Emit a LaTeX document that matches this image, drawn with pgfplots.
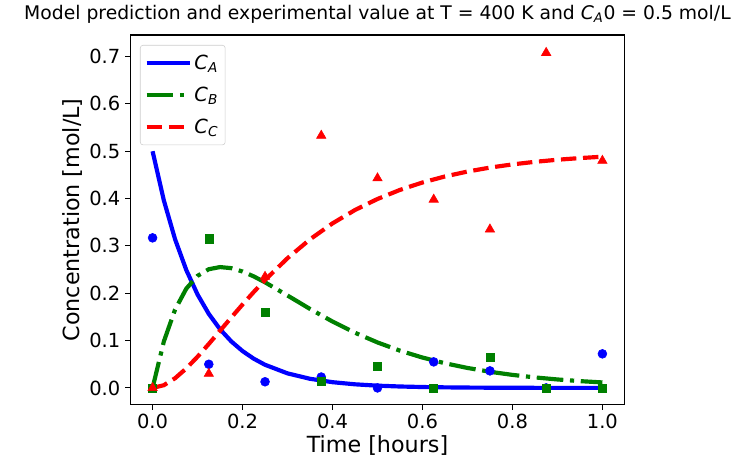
\documentclass[border=0pt]{standalone}
\usepackage{fontspec}
\setmainfont{DejaVu Sans}
\usepackage{pgfplots}
\pgfplotsset{compat=1.18}
\definecolor{mblue}{RGB}{0,0,255}
\definecolor{mgreen}{RGB}{0,128,0}
\definecolor{mred}{RGB}{255,0,0}
\begin{document}
\begin{tikzpicture}
\begin{axis}[
  scale only axis,
  width=356pt, height=266pt,
  xmin=-0.05, xmax=1.05, ymin=-0.0355, ymax=0.7455,
  xtick={0,0.2,0.4,0.6,0.8,1.0},
  ytick={0,0.1,0.2,0.3,0.4,0.5,0.6,0.7},
  /pgf/number format/assume math mode=true,
  /pgf/number format/.cd, fixed, fixed zerofill, precision=1, /pgfplots/.cd,
  tick label style={font=\fontsize{14pt}{16pt}\selectfont},
  tick align=outside, major tick length=3.5pt,
  every tick/.style={black, line width=0.8pt},
  axis line style={line width=0.8pt},
  xtick pos=bottom, ytick pos=left,
  title={Model prediction and experimental value at T = 400 K and \textit{C}\textsubscript{\textit{A}}0 = 0.5 mol/L},
  title style={font=\fontsize{13.5pt}{15pt}\selectfont, at={(0.5,1)}, anchor=south, yshift=0pt, inner sep=2pt},
  xlabel={Time [hours]},
  ylabel={Concentration [mol/L]},
  label style={font=\fontsize{16pt}{18pt}\selectfont},
  xlabel style={yshift=2pt},
  ylabel style={yshift=-2pt},
  legend style={at={(0.02,0.973)}, anchor=north west, draw=black!20, rounded corners=2pt,
    fill=white, fill opacity=0.8, text opacity=1, font=\fontsize{14pt}{16pt}\selectfont,
    inner sep=3pt, row sep=7pt, inner ysep=5pt},
  legend cell align=left,
  legend image code/.code={\draw[#1] (0pt,0pt) -- (31pt,0pt);},
]
\addplot[mblue, line width=3pt, no marks] coordinates {
(0,0.5) (0.025,0.39629) (0.05,0.31407) (0.075,0.24892) (0.1,0.19728) (0.125,0.15635)
(0.15,0.12392) (0.175,0.09821) (0.2,0.07784) (0.225,0.06169) (0.25,0.04889)
(0.3,0.03071) (0.35,0.01929) (0.4,0.01212) (0.45,0.00761) (0.5,0.00478)
(0.55,0.00300) (0.6,0.00189) (0.65,0.00119) (0.7,0.00074) (0.75,0.00047)
(0.8,0.0003) (0.85,0.00018) (0.9,0.00012) (0.95,0.00007) (1.0,0.00005)};
\addlegendentry{\textit{C}\textsubscript{\textit{A}}}
\addplot[mgreen, line width=3pt, no marks, dash pattern=on 19.2pt off 4.8pt on 3pt off 4.8pt] coordinates {
(0,0) (0.025,0.09799) (0.05,0.16548) (0.075,0.20981) (0.1,0.23676) (0.125,0.25077)
(0.15,0.25529) (0.175,0.25298) (0.2,0.24589) (0.225,0.23554) (0.25,0.22310)
(0.3,0.19522) (0.35,0.16683) (0.4,0.14026) (0.45,0.11657) (0.5,0.09607)
(0.55,0.07868) (0.6,0.06414) (0.65,0.0521) (0.7,0.0422) (0.75,0.03411)
(0.8,0.02753) (0.85,0.02219) (0.9,0.01787) (0.95,0.01438) (1.0,0.01157)};
\addlegendentry{\textit{C}\textsubscript{\textit{B}}}
\addplot[mred, line width=3pt, no marks, dash pattern=on 11.1pt off 4.8pt] coordinates {
(0,0) (0.025,0.00572) (0.05,0.02045) (0.075,0.04127) (0.1,0.06596) (0.125,0.09288)
(0.15,0.12079) (0.175,0.14881) (0.2,0.17627) (0.225,0.20277) (0.25,0.22801)
(0.3,0.27407) (0.35,0.31388) (0.4,0.34762) (0.45,0.37582) (0.5,0.39915)
(0.55,0.41832) (0.6,0.43397) (0.65,0.44671) (0.7,0.45706) (0.75,0.46542)
(0.8,0.47217) (0.85,0.47763) (0.9,0.48201) (0.95,0.48555) (1.0,0.48838)};
\addlegendentry{\textit{C}\textsubscript{\textit{C}}}
\addplot[only marks, mark=*, mark size=3.2pt, mblue, forget plot] coordinates {
(0,0.317) (0.125,0.050) (0.25,0.013) (0.375,0.023) (0.5,0.0) (0.625,0.055) (0.75,0.036) (0.875,0.0) (1.0,0.072)};
\addplot[only marks, mark=square*, mark size=2.9pt, mgreen, forget plot] coordinates {
(0,0) (0.125,0.315) (0.25,0.160) (0.375,0.015) (0.5,0.045) (0.625,0.0) (0.75,0.065) (0.875,0.0) (1.0,0.0)};
\addplot[only marks, mark=triangle*, mark size=3.9pt, mred, forget plot] coordinates {
(0,0) (0.125,0.030) (0.25,0.235) (0.375,0.533) (0.5,0.443) (0.625,0.398) (0.75,0.335) (0.875,0.708) (1.0,0.480)};
\end{axis}
\pgfresetboundingbox
\path ([shift={(-93.6pt,-48.2pt)}]current axis.south west) rectangle ([shift={(92.9pt,25.2pt)}]current axis.north east);
\end{tikzpicture}
\end{document}
